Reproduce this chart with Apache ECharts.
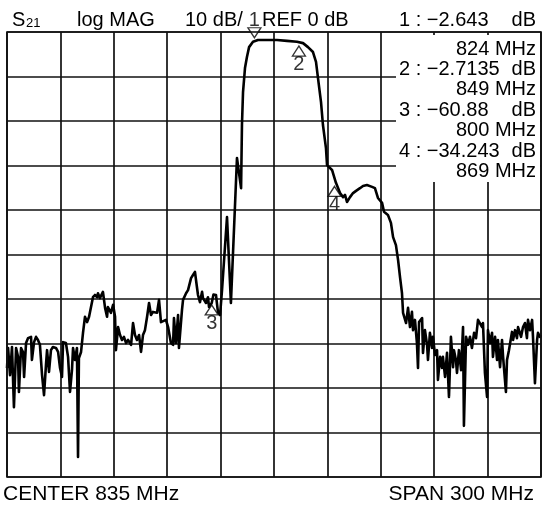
<!DOCTYPE html>
<html><head><meta charset="utf-8">
<script src="https://cdn.jsdelivr.net/npm/echarts@6/dist/echarts.min.js"></script>
<style>html,body{margin:0;padding:0;background:#fff}#c{width:542px;height:510px}</style>
</head><body><div id="c"></div>
<script>
// ---- data ----
const centerMHz = 835;
const spanMHz = 300;
const refDb = 0;
const dbPerDiv = 10;
const paramName = 'S';
const paramSub = '21';
const formatName = 'log MAG';

const freqMHz = [685,685.6,686.7,687.8,688.9,690.1,691.2,691.7,692.9,694.0,694.6,695.7,696.8,698.5,699.0,700.2,701.3,702.4,703.5,704.7,705.8,706.9,707.5,708.6,709.7,710.8,712.5,713.7,714.8,715.9,716.5,718.1,719.3,720.4,721.5,722.1,723.2,724.3,724.9,725.4,726.6,727.7,728.8,730.0,731.1,733.3,734.4,735.6,736.1,737.2,738.9,740.1,741.2,741.7,743.4,744.6,745.7,746.2,747.4,748.5,749.6,750.7,751.9,753.0,754.7,755.8,756.9,758.0,759.2,760.3,761.4,762.5,763.7,764.8,765.9,767.0,768.1,769.3,770.4,771.5,772.6,774.3,775.5,777.1,778.3,778.8,779.9,781.1,781.6,783.3,783.9,785.6,786.7,788.4,789.5,790.6,791.7,792.3,793.4,794.6,795.1,796.8,797.9,798.5,800.0,801.0,802.4,803.5,804.7,805.8,808.6,810.8,814.2,816.5,817.0,817.6,818.7,819.8,821.0,823.2,826.0,831.1,836.7,842.3,847.9,851.3,854.1,856.9,858.6,859.7,861.4,862.5,864.2,864.8,867.6,869.8,872.1,873.8,874.9,876.0,877.7,879.4,881.1,882.2,883.3,885.0,887.2,890.1,891.7,893.4,895.7,896.8,899.0,900.7,901.9,903.5,904.7,905.8,906.9,907.5,909.2,910.3,911.4,912.5,913.1,914.2,915.3,915.9,916.5,918.2,918.7,919.8,921.0,921.5,922.6,923.8,924.3,925.5,926.6,927.1,928.3,929.4,929.9,931.1,932.2,933.3,934.4,935.6,936.1,937.2,937.8,938.9,940.1,941.2,941.7,942.9,944.0,945.1,946.2,947.4,948.5,949.6,950.7,951.9,952.4,953.5,954.7,955.2,956.4,957.5,958.0,959.2,960.3,960.8,962.0,963.1,963.7,965.3,965.9,967.0,968.7,969.3,970.4,971.5,972.1,973.8,974.9,976.0,977.1,977.7,978.8,980.0,980.5,981.6,982.8,983.3,984.4,985.0];

const magDb = [-75.5,-71.0,-77.1,-70.8,-84.3,-71.0,-73.0,-80.9,-71.0,-71.9,-77.5,-69.9,-68.8,-68.5,-73.7,-69.7,-68.5,-69.2,-70.3,-77.1,-81.6,-74.8,-71.5,-76.4,-71.5,-70.8,-71.0,-71.9,-75.5,-77.5,-69.7,-69.9,-73.0,-80.9,-76.0,-71.0,-73.7,-71.0,-95.5,-73.3,-71.9,-67.6,-64.0,-65.2,-64.0,-59.6,-59.1,-59.6,-58.7,-59.8,-58.4,-62.0,-64.0,-61.8,-63.1,-61.3,-64.0,-71.5,-66.3,-68.1,-69.2,-68.5,-69.9,-69.2,-70.3,-65.4,-68.1,-69.2,-68.1,-71.9,-68.1,-67.0,-64.0,-60.9,-63.6,-62.9,-62.5,-63.1,-60.2,-65.2,-65.2,-64.7,-66.3,-69.9,-70.3,-64.3,-69.9,-63.6,-71.0,-62.5,-60.2,-58.7,-58.0,-55.3,-54.6,-53.9,-57.3,-59.1,-60.7,-58.4,-59.8,-60.9,-59.6,-61.8,-60.9,-59.0,-59.1,-62.9,-63.6,-58.0,-41.6,-60.9,-28.3,-35.1,-20.9,-13.5,-8.1,-5.6,-3.4,-2.2,-1.8,-1.8,-1.8,-2.0,-2.2,-2.5,-3.4,-4.5,-6.7,-10.3,-15.7,-20.9,-26.1,-29.9,-31.0,-33.9,-36.2,-37.1,-36.6,-38.2,-37.1,-36.2,-35.7,-36.0,-35.1,-34.6,-34.4,-34.8,-35.1,-37.3,-38.4,-40.4,-41.1,-42.9,-46.1,-47.9,-51.2,-55.1,-58.7,-63.1,-65.4,-62.0,-66.3,-62.9,-67.0,-64.7,-69.9,-75.5,-65.2,-64.3,-72.1,-67.0,-70.3,-73.7,-67.6,-71.0,-68.5,-72.6,-71.5,-78.2,-73.0,-75.5,-73.0,-77.5,-72.1,-82.0,-68.5,-75.3,-71.5,-73.7,-76.6,-71.5,-76.0,-66.3,-88.5,-68.5,-70.3,-68.5,-71.0,-67.6,-68.8,-64.7,-64.3,-66.3,-65.4,-76.6,-82.0,-67.0,-69.9,-67.6,-73.0,-68.5,-73.7,-69.2,-75.3,-69.2,-73.0,-80.9,-73.7,-71.5,-67.4,-69.2,-67.0,-68.8,-66.3,-68.5,-66.3,-65.4,-68.8,-64.7,-67.0,-64.7,-68.5,-78.9,-69.2,-67.6,-68.5,-68.1];

const markerFreq = [824, 849, 800, 869];
const markerDb = [-2.643, -2.7135, -60.88, -34.243];
const markerNames = ['1', '2', '3', '4'];

// ---- build ----
const FONT = '"Liberation Sans", Arial, Helvetica, sans-serif';
const MINUS = '\u2212';
const fmtDb = v => (v < 0 ? MINUS : '') + String(Math.abs(v));
const halfSpan = spanMHz / 2;
const n = Math.min(freqMHz.length, magDb.length);
const trace = [];
for (let i = 0; i < n; i++) trace.push([freqMHz[i] - centerMHz, magDb[i]]);

const G = {left: 7, top: 32, width: 534, height: 445};

const chart = echarts.init(document.getElementById('c'), null, {renderer: 'canvas'});

function txt(x, y, text, size, align, z) {
  return {type: 'text', x: x, y: y, z: z || 30,
    style: {text: text, fill: '#000', font: size + 'px ' + FONT, align: align || 'left', verticalAlign: 'middle'}};
}

const graphics = [];
// readout white box
graphics.push({type: 'rect', z: 10, shape: {x: 396, y: 35, width: 144, height: 147}, style: {fill: '#fff'}});
// border
graphics.push({type: 'rect', z: 20, shape: {x: G.left, y: G.top, width: G.width, height: G.height},
  style: {fill: null, stroke: '#111', lineWidth: 1.7}});
// header
graphics.push(txt(12, 20.5, paramName, 20));
graphics.push(txt(26, 23.5, paramSub, 13));
graphics.push(txt(77, 20.5, formatName, 20));
graphics.push(txt(185, 20.5, dbPerDiv + ' dB/', 20));
graphics.push(txt(262, 20.5, 'REF ' + refDb + ' dB', 20));
// marker readouts
const rowY = [20.5, 49, 69.4, 89.8, 110.2, 130.6, 151, 171.4];
for (let i = 0; i < markerFreq.length; i++) {
  const yv = rowY[i * 2];
  const yf = rowY[i * 2 + 1];
  graphics.push(txt(399, yv, markerNames[i] + ' : ' + fmtDb(markerDb[i]), 20));
  graphics.push(txt(536, yv, 'dB', 20, 'right'));
  graphics.push(txt(536, yf, markerFreq[i] + ' MHz', 20, 'right'));
}
// footer
graphics.push(txt(3, 494, 'CENTER ' + centerMHz + ' MHz', 21));
graphics.push(txt(534, 494, 'SPAN ' + spanMHz + ' MHz', 21, 'right'));

const activeMarker = [[markerFreq[0] - centerMHz, markerDb[0], markerNames[0]]];
const otherMarkers = [];
for (let i = 1; i < markerFreq.length; i++) otherMarkers.push([markerFreq[i] - centerMHz, markerDb[i], markerNames[i]]);

chart.setOption({
  animation: false,
  backgroundColor: '#fff',
  grid: {left: G.left, top: G.top, width: G.width, height: G.height, show: false},
  xAxis: {type: 'value', min: -halfSpan, max: halfSpan, interval: spanMHz / 10,
    axisLabel: {show: false}, axisTick: {show: false}, axisLine: {show: false},
    splitLine: {show: true, lineStyle: {color: '#111', width: 1.7}}},
  yAxis: {type: 'value', min: refDb - 10 * dbPerDiv, max: refDb, interval: dbPerDiv,
    axisLabel: {show: false}, axisTick: {show: false}, axisLine: {show: false},
    splitLine: {show: true, lineStyle: {color: '#111', width: 1.7}}},
  graphic: graphics,
  series: [
    {type: 'line', data: trace, symbol: 'none', z: 3, clip: true,
      lineStyle: {color: '#000', width: 2.6, join: 'round'}},
    {type: 'scatter', data: activeMarker, z: 5, symbol: 'triangle', symbolRotate: 180,
      symbolSize: [13, 10], symbolOffset: [0, -11],
      itemStyle: {color: '#fff', borderColor: '#000', borderWidth: 1.3},
      label: {show: true, position: 'top', distance: -3, formatter: p => p.data[2],
        fontSize: 20, fontFamily: FONT, color: '#000'}},
    {type: 'scatter', data: otherMarkers, z: 5, symbol: 'triangle',
      symbolSize: [13, 10], symbolOffset: [0, 7],
      itemStyle: {color: '#fff', borderColor: '#000', borderWidth: 1.3},
      label: {show: true, position: 'bottom', distance: -2, formatter: p => p.data[2],
        fontSize: 20, fontFamily: FONT, color: '#000'}}
  ]
});
</script>
</body></html>
